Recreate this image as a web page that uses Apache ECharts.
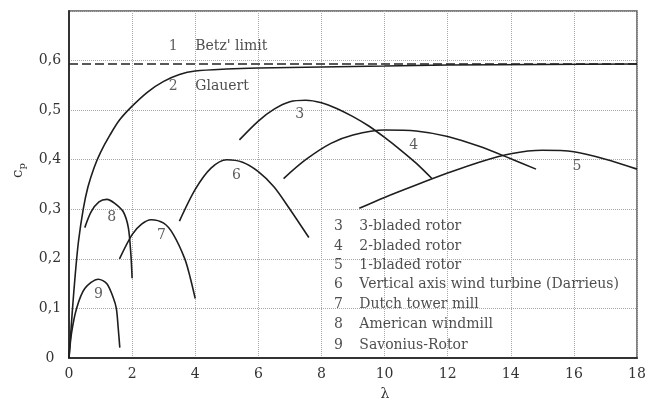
<!DOCTYPE html>
<html>
<head>
<meta charset="utf-8">
<script src="https://cdn.jsdelivr.net/npm/echarts@6/dist/echarts.min.js"></script>
<style>
  html, body { margin: 0; padding: 0; background: #fff; }
  #chart { width: 658px; height: 406px; }
</style>
</head>
<body>
<div id="chart"></div>
<script>
// power coefficient curves, [tip speed ratio, cp]
var betz = [[0, 0.593], [18, 0.593]];
var glauert = [[0, 0], [0.1, 0.09], [0.2, 0.17], [0.3, 0.235], [0.45, 0.3], [0.6, 0.345], [0.8, 0.385],
  [1.0, 0.415], [1.3, 0.45], [1.6, 0.48], [2.0, 0.508], [2.5, 0.537], [3.0, 0.558], [3.5, 0.572],
  [4.0, 0.579], [5, 0.583], [6, 0.585], [8, 0.587], [10, 0.589], [12, 0.591], [15, 0.592], [18, 0.593]];
var rotor3 = [[5.4, 0.44], [6, 0.478], [6.5, 0.502], [7, 0.517], [7.5, 0.52], [8, 0.515], [8.5, 0.503],
  [9, 0.487], [9.5, 0.468], [10, 0.445], [10.5, 0.42], [11, 0.393], [11.5, 0.362]];
var rotor2 = [[6.8, 0.362], [7.5, 0.4], [8.3, 0.433], [9, 0.45], [10, 0.46], [11, 0.458], [12, 0.447],
  [13, 0.427], [14, 0.402], [14.8, 0.381]];
var rotor1 = [[9.2, 0.302], [10, 0.324], [11, 0.349], [12, 0.373], [13, 0.395], [14, 0.412],
  [15, 0.419], [16, 0.416], [17, 0.401], [18, 0.381]];
var darrieus = [[3.5, 0.276], [4, 0.34], [4.5, 0.383], [5, 0.4], [5.5, 0.395], [6, 0.376],
  [6.5, 0.345], [7, 0.3], [7.6, 0.243]];
var dutch = [[1.6, 0.2], [2, 0.249], [2.3, 0.27], [2.6, 0.279], [3, 0.272], [3.3, 0.25], [3.67, 0.2],
  [3.85, 0.16], [4, 0.12]];
var american = [[0.5, 0.263], [0.7, 0.295], [0.95, 0.315], [1.2, 0.32], [1.45, 0.312], [1.72, 0.295],
  [1.88, 0.263], [1.96, 0.21], [2.0, 0.161]];
var savonius = [[0, 0], [0.08, 0.05], [0.24, 0.1], [0.5, 0.14], [0.93, 0.159], [1.2, 0.15], [1.4, 0.122],
  [1.5, 0.1], [1.56, 0.06], [1.61, 0.021]];

// curve numbers placed next to the curves
var curveTags = [
  { name: "3", value: [7.31, 0.491] },
  { name: "4", value: [10.92, 0.428] },
  { name: "5", value: [16.1, 0.387] },
  { name: "6", value: [5.31, 0.368] },
  { name: "7", value: [2.93, 0.248] },
  { name: "8", value: [1.35, 0.284] },
  { name: "9", value: [0.93, 0.128] },
  { name: "1", value: [3.3, 0.628] },
  { name: "2", value: [3.3, 0.548] }
];
var topNotes = [
  { name: "Betz' limit", value: [4.0, 0.628] },
  { name: "Glauert", value: [4.0, 0.548] }
];
// key list in the lower right
var keyNums = ["3", "4", "5", "6", "7", "8", "9"];
var keyNames = ["3-bladed rotor", "2-bladed rotor", "1-bladed rotor",
  "Vertical axis wind turbine (Darrieus)", "Dutch tower mill", "American windmill", "Savonius-Rotor"];
var keyRows = [0.266, 0.226, 0.187, 0.148, 0.108, 0.067, 0.026];
var keyNumX = 8.54;
var keyTextX = 9.2;

var FONT = "DejaVu Serif";
var chart = echarts.init(document.getElementById("chart"));

function curve(name, data) {
  return {
    name: name,
    type: "line",
    data: data,
    smooth: 0.3,
    symbol: "none",
    silent: true,
    lineStyle: { color: "#1e1e1e", width: 1.6 }
  };
}

function textSeries(data, pos, color) {
  return {
    type: "scatter",
    data: data,
    symbolSize: 0,
    silent: true,
    label: {
      show: true,
      position: pos,
      distance: 0,
      formatter: "{b}",
      color: color,
      fontFamily: FONT,
      fontSize: 14
    }
  };
}

var series = [
  {
    name: "Betz",
    type: "line",
    data: betz,
    symbol: "none",
    silent: true,
    lineStyle: { color: "#222", width: 1.5, type: [9, 4] }
  },
  curve("Glauert", glauert),
  curve("3", rotor3),
  curve("2", rotor2),
  curve("1", rotor1),
  curve("Darrieus", darrieus),
  curve("Dutch", dutch),
  curve("American", american),
  curve("Savonius", savonius),
  textSeries(curveTags, "inside", "#333"),
  textSeries(topNotes, "right", "#222"),
  textSeries(keyNums.map(function (n, i) { return { name: n, value: [keyNumX, keyRows[i]] }; }), "inside", "#222"),
  textSeries(keyNames.map(function (n, i) { return { name: n, value: [keyTextX, keyRows[i]] }; }), "right", "#222")
];

var option = {
  animation: false,
  grid: {
    left: 69, top: 11, right: 21, bottom: 39,
    show: true, borderColor: "#555", borderWidth: 1.5
  },
  xAxis: {
    type: "value",
    min: 0, max: 18, interval: 2,
    name: "λ",
    nameLocation: "middle",
    nameGap: 29,
    nameTextStyle: { fontFamily: FONT, fontSize: 14, color: "#333", padding: [0, 0, 0, 64] },
    axisLine: { lineStyle: { color: "#333", width: 2 } },
    axisTick: { show: false },
    axisLabel: { fontFamily: FONT, fontSize: 14, color: "#333", margin: 9 },
    splitLine: { lineStyle: { color: "#aaa", type: "dotted", width: 1 } }
  },
  yAxis: {
    type: "value",
    min: 0, max: 0.7, interval: 0.1,
    name: "{c|c}{p|p}",
    nameLocation: "middle",
    nameRotate: 90,
    nameGap: 42,
    nameTextStyle: {
      padding: [0, 0, 0, 28],
      rich: {
        c: { fontFamily: FONT, fontSize: 15, color: "#333" },
        p: { fontFamily: FONT, fontSize: 10, color: "#333", padding: [8, 0, 0, 0] }
      }
    },
    axisLine: { show: true, lineStyle: { color: "#333", width: 2 } },
    axisTick: { show: false },
    axisLabel: {
      fontFamily: FONT, fontSize: 14, color: "#333", margin: 19, align: "center",
      formatter: function (v) {
        if (v > 0.65) return "";
        if (v === 0) return "0";
        return v.toFixed(1).replace(".", ",");
      }
    },
    splitLine: { lineStyle: { color: "#aaa", type: "dotted", width: 1 } }
  },
  series: series
};

chart.setOption(option);
</script>
</body>
</html>
